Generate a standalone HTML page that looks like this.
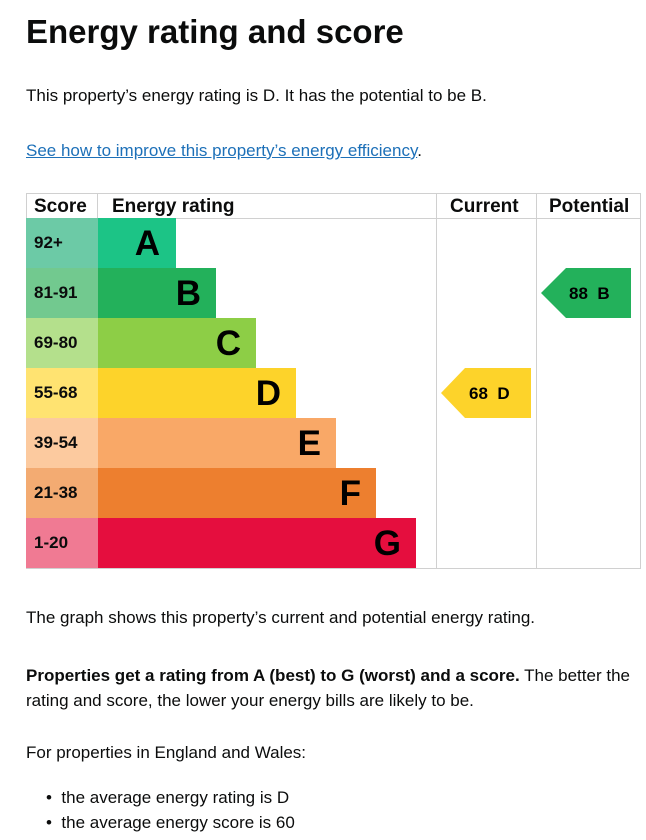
<!DOCTYPE html>
<html><head><style>
body{margin:0;width:646px;height:840px;background:#fff;font-family:"Liberation Sans",sans-serif;color:#0b0c0c;position:relative;overflow:hidden}
.a{position:absolute;white-space:nowrap}
.p{font-size:17px}
.h{font-size:33px;font-weight:bold}
.sc{position:absolute;left:26px;width:72px;height:50px;font-weight:bold;font-size:17px;line-height:50px;padding-left:8px;box-sizing:border-box}
.bar{position:absolute;left:98px;height:50px;font-weight:bold;font-size:35px;line-height:52px;text-align:right;padding-right:15px;box-sizing:border-box;color:#000}
.ln{position:absolute;background:#d0d0d0}
</style></head><body>
<div class="a h" style="left:26px;top:13px">Energy rating and score</div>
<div class="a p" style="left:26px;top:86px">This property’s energy rating is D. It has the potential to be B.</div>
<div class="a p" style="left:26px;top:141px"><span style="color:#1d70b8;text-decoration:underline">See how to improve this property’s energy efficiency</span>.</div>

<div class="ln" style="left:26px;top:193px;width:615px;height:1px"></div>
<div class="ln" style="left:26px;top:218px;width:615px;height:1px"></div>
<div class="ln" style="left:26px;top:568px;width:615px;height:1px"></div>
<div class="ln" style="left:26px;top:193px;width:1px;height:375px"></div>
<div class="ln" style="left:97px;top:193px;width:1px;height:25px"></div>
<div class="ln" style="left:436px;top:193px;width:1px;height:375px"></div>
<div class="ln" style="left:536px;top:193px;width:1px;height:375px"></div>
<div class="ln" style="left:640px;top:193px;width:1px;height:375px"></div>
<div class="a" style="left:34px;top:196px;font-size:19px;font-weight:bold">Score</div>
<div class="a" style="left:112px;top:196px;font-size:19px;font-weight:bold">Energy rating</div>
<div class="a" style="left:450px;top:196px;font-size:19px;font-weight:bold">Current</div>
<div class="a" style="left:549px;top:196px;font-size:19px;font-weight:bold">Potential</div>

<div class="sc" style="top:218px;background:#6ccaa6">92+</div><div class="bar" style="top:218px;width:78px;background:#1cc486;padding-right:16px">A</div>
<div class="sc" style="top:268px;background:#72c98f">81-91</div><div class="bar" style="top:268px;width:118px;background:#23b15b">B</div>
<div class="sc" style="top:318px;background:#b4e08c">69-80</div><div class="bar" style="top:318px;width:158px;background:#8dce46">C</div>
<div class="sc" style="top:368px;background:#ffe371">55-68</div><div class="bar" style="top:368px;width:198px;background:#fdd32a">D</div>
<div class="sc" style="top:418px;background:#fcca9f">39-54</div><div class="bar" style="top:418px;width:238px;background:#f9a867">E</div>
<div class="sc" style="top:468px;background:#f3ab72">21-38</div><div class="bar" style="top:468px;width:278px;background:#ed7f2f">F</div>
<div class="sc" style="top:518px;background:#f07a93">1-20</div><div class="bar" style="top:518px;width:318px;background:#e50e3e">G</div>

<svg class="a" style="left:0;top:0" width="646" height="600">
<polygon points="441,393 465,368 531,368 531,418 465,418" fill="#fdd32a"/>
<polygon points="541,293 566,268 631,268 631,318 566,318" fill="#23b15b"/>
<text x="469" y="399" font-family="Liberation Sans" font-weight="bold" font-size="17" fill="#000" xml:space="preserve">68  D</text>
<text x="569" y="299" font-family="Liberation Sans" font-weight="bold" font-size="17" fill="#000" xml:space="preserve">88  B</text>
</svg>

<div class="a p" style="left:26px;top:608px">The graph shows this property’s current and potential energy rating.</div>
<div class="a p" style="left:26px;top:663px;line-height:25px;white-space:normal;width:620px"><b>Properties get a rating from A (best) to G (worst) and a score.</b> The better the rating and score, the lower your energy bills are likely to be.</div>
<div class="a p" style="left:26px;top:743px">For properties in England and Wales:</div>
<div class="a p" style="left:46px;top:788px">•&nbsp;&nbsp;the average energy rating is D</div>
<div class="a p" style="left:46px;top:813px">•&nbsp;&nbsp;the average energy score is 60</div>
</body></html>
